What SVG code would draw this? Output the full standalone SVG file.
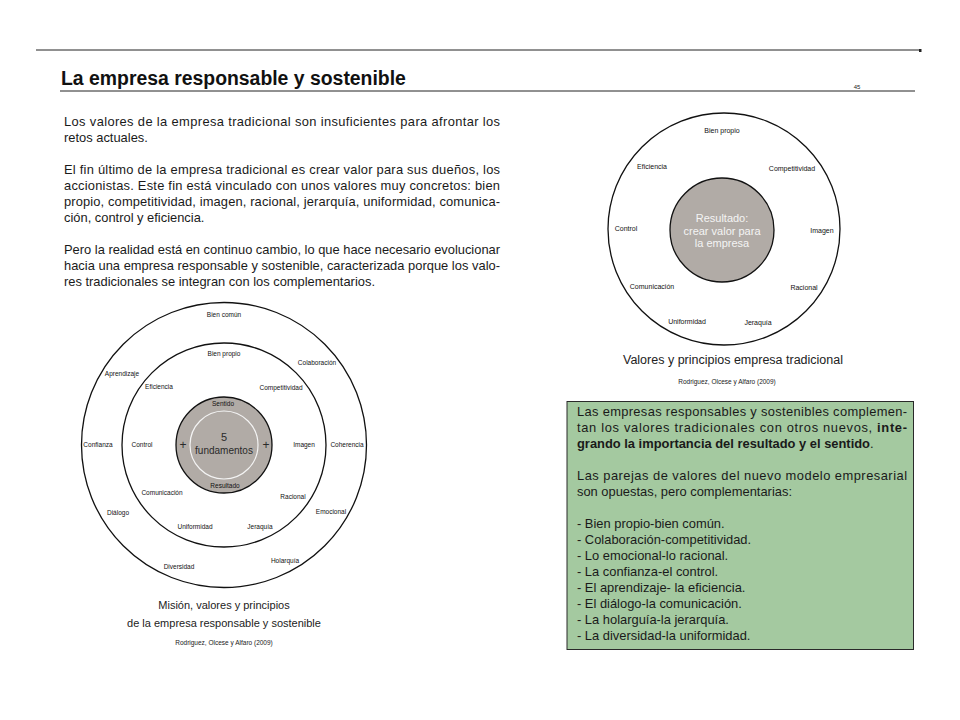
<svg xmlns="http://www.w3.org/2000/svg" width="960" height="720" viewBox="0 0 960 720">
<style>
  text { font-family: "Liberation Sans", Arial, sans-serif; }
  .body { font-size: 12.9px; fill: #1a1a1a; }
  .b { font-weight: bold; }
  .lbl { font-size: 6.5px; text-anchor: middle; fill: #111; }
  .lbr { font-size: 7px; text-anchor: middle; fill: #111; }
  .ring { fill: none; stroke: #111; stroke-width: 1.3; }
  .core { fill: #b1aba6; stroke: #111; stroke-width: 1.3; }
  .cap { text-anchor: middle; fill: #222; }
  .src { font-size: 6.5px; text-anchor: middle; fill: #222; }
  .wt { font-size: 11px; text-anchor: middle; fill: #f4f4f4; }
  .dk { text-anchor: middle; fill: #2a2a2a; }
</style>
<rect width="960" height="720" fill="#ffffff"/>

<g id="header">
  <line x1="36" y1="50" x2="919" y2="50" stroke="#222" stroke-width="1"/>
  <rect x="919" y="49" width="2.5" height="3" fill="#222"/>
  <text x="61" y="85" style="font-size:19.4px;font-weight:bold;fill:#111">La empresa responsable y sostenible</text>
  <text x="857" y="89" style="font-size:6px;fill:#222;text-anchor:middle">45</text>
  <line x1="60" y1="91" x2="915" y2="91" stroke="#222" stroke-width="1"/>
</g>

<g id="intro-text">
  <text class="body" x="64" y="126" textLength="436" lengthAdjust="spacing">Los valores de la empresa tradicional son insuficientes para afrontar los</text>
  <text class="body" x="64" y="142">retos actuales.</text>
  <text class="body" x="64" y="174" textLength="436" lengthAdjust="spacing">El fin último de la empresa tradicional es crear valor para sus dueños, los</text>
  <text class="body" x="64" y="190" textLength="436" lengthAdjust="spacing">accionistas. Este fin está vinculado con unos valores muy concretos: bien</text>
  <text class="body" x="64" y="206" textLength="436" lengthAdjust="spacing">propio, competitividad, imagen, racional, jerarquía, uniformidad, comunica-</text>
  <text class="body" x="64" y="222">ción, control y eficiencia.</text>
  <text class="body" x="64" y="254" textLength="436" lengthAdjust="spacing">Pero la realidad está en continuo cambio, lo que hace necesario evolucionar</text>
  <text class="body" x="64" y="270" textLength="436" lengthAdjust="spacing">hacia una empresa responsable y sostenible, caracterizada porque los valo-</text>
  <text class="body" x="64" y="286">res tradicionales se integran con los complementarios.</text>
</g>

<g id="diagram-sostenible">
  <circle class="ring" cx="224" cy="445" r="142.5"/>
  <circle class="ring" cx="224" cy="445" r="102"/>
  <circle class="core" cx="224" cy="445" r="48"/>
  <circle cx="224" cy="445" r="34" fill="none" stroke="#f4f4f4" stroke-width="1.2"/>
  <g id="outer-ring-labels">
    <text class="lbl" x="224" y="317">Bien común</text>
    <text class="lbl" x="317" y="365">Colaboración</text>
    <text class="lbl" x="122" y="376">Aprendizaje</text>
    <text class="lbl" x="98" y="447">Confianza</text>
    <text class="lbl" x="347" y="447">Coherencia</text>
    <text class="lbl" x="118" y="515">Diálogo</text>
    <text class="lbl" x="331" y="514">Emocional</text>
    <text class="lbl" x="285" y="563">Holarquía</text>
    <text class="lbl" x="179" y="569">Diversidad</text>
  </g>
  <g id="inner-ring-labels">
    <text class="lbl" x="224" y="356">Bien propio</text>
    <text class="lbl" x="159" y="389">Eficiencia</text>
    <text class="lbl" x="281" y="390">Competitividad</text>
    <text class="lbl" x="142" y="447">Control</text>
    <text class="lbl" x="304" y="447">Imagen</text>
    <text class="lbl" x="162" y="495">Comunicación</text>
    <text class="lbl" x="293" y="499">Racional</text>
    <text class="lbl" x="195" y="529">Uniformidad</text>
    <text class="lbl" x="260" y="529">Jeraquía</text>
  </g>
  <g id="core-labels">
    <text class="lbl" x="223" y="406">Sentido</text>
    <text class="lbl" x="225" y="488">Resultado</text>
    <text class="dk" x="183" y="449" style="font-size:12px">+</text>
    <text class="dk" x="266" y="449" style="font-size:12px">+</text>
    <text class="dk" x="224" y="441" style="font-size:11px">5</text>
    <text class="dk" x="224" y="454" style="font-size:10px">fundamentos</text>
  </g>
  <text class="cap" x="224" y="609" style="font-size:11px">Misión, valores y principios</text>
  <text class="cap" x="224" y="627" style="font-size:11px">de la empresa responsable y sostenible</text>
  <text class="src" x="224" y="645">Rodriguez, Olcese y Alfaro (2009)</text>
</g>

<g id="diagram-tradicional">
  <circle class="ring" cx="724" cy="229" r="116"/>
  <circle class="core" cx="722" cy="230" r="52"/>
  <text class="wt" x="722" y="222">Resultado:</text>
  <text class="wt" x="722" y="235">crear valor para</text>
  <text class="wt" x="722" y="247">la empresa</text>
  <text class="lbr" x="722" y="133">Bien propio</text>
  <text class="lbr" x="652" y="169">Eficiencia</text>
  <text class="lbr" x="792" y="171">Competitividad</text>
  <text class="lbr" x="626" y="231">Control</text>
  <text class="lbr" x="822" y="233">Imagen</text>
  <text class="lbr" x="652" y="289">Comunicación</text>
  <text class="lbr" x="804" y="290">Racional</text>
  <text class="lbr" x="687" y="324">Uniformidad</text>
  <text class="lbr" x="758" y="325">Jeraquía</text>
  <text class="cap" x="733" y="364" style="font-size:12.5px">Valores y principios empresa tradicional</text>
  <text class="src" x="727" y="384">Rodriguez, Olcese y Alfaro (2009)</text>
</g>

<g id="green-box">
  <rect x="567" y="401.5" width="346.5" height="248" fill="#a4c9a0" stroke="#2a2a2a" stroke-width="1"/>
  <text class="body" x="577" y="416" textLength="330" lengthAdjust="spacing">Las empresas responsables y sostenibles complemen-</text>
  <text class="body" x="577" y="432" textLength="330" lengthAdjust="spacing">tan los valores tradicionales con otros nuevos, <tspan class="b">inte-</tspan></text>
  <text class="body" x="577" y="448"><tspan class="b">grando la importancia del resultado y el sentido</tspan>.</text>
  <text class="body" x="577" y="480" textLength="330" lengthAdjust="spacing">Las parejas de valores del nuevo modelo empresarial</text>
  <text class="body" x="577" y="496">son opuestas, pero complementarias:</text>
  <text class="body" x="577" y="528">- Bien propio-bien común.</text>
  <text class="body" x="577" y="544">- Colaboración-competitividad.</text>
  <text class="body" x="577" y="560">- Lo emocional-lo racional.</text>
  <text class="body" x="577" y="576">- La confianza-el control.</text>
  <text class="body" x="577" y="592">- El aprendizaje- la eficiencia.</text>
  <text class="body" x="577" y="608">- El diálogo-la comunicación.</text>
  <text class="body" x="577" y="624">- La holarguía-la jerarquía.</text>
  <text class="body" x="577" y="640">- La diversidad-la uniformidad.</text>
</g>
</svg>
